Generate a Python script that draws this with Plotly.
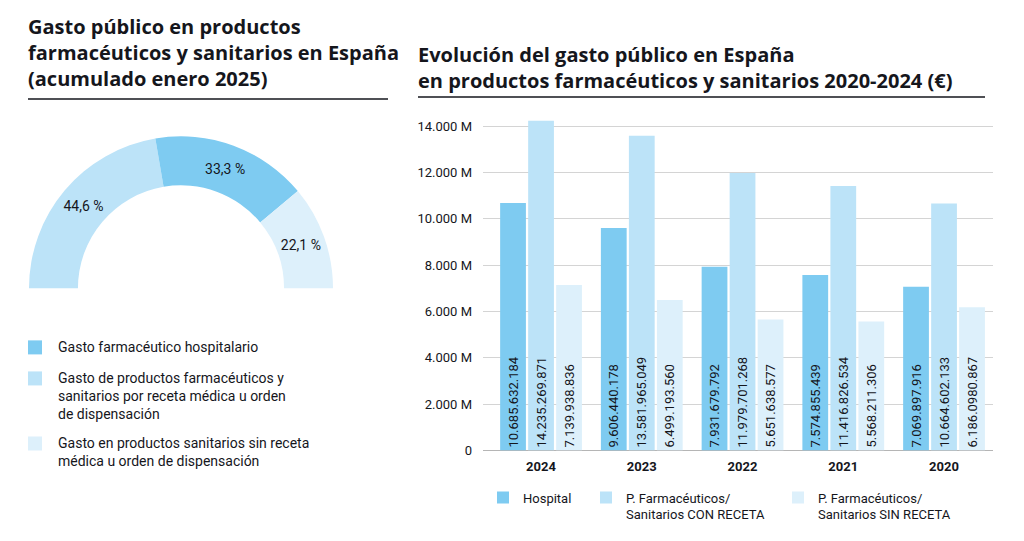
import plotly.graph_objects as go

# ---------------- data ----------------
pie_labels = ["Gasto de productos farmacéuticos y sanitarios por receta médica u orden de dispensación",
              "Gasto farmacéutico hospitalario",
              "Gasto en productos sanitarios sin receta médica u orden de dispensación"]
pie_values = [44.6, 33.3, 22.1]
pie_text = ["44,6 %", "33,3 %", "22,1 %"]

years = ["2024", "2023", "2022", "2021", "2020"]
hospital = [10685632184, 9606440178, 7931679792, 7574855439, 7069897916]
con_receta = [14235269871, 13581965049, 11979701268, 11416826534, 10664602133]
sin_receta = [7139938836, 6499193560, 5651638577, 5568211306, 6186098867]
hospital_lbl = ["10.685.632.184", "9.606.440.178", "7.931.679.792", "7.574.855.439", "7.069.897.916"]
con_lbl = ["14.235.269.871", "13.581.965.049", "11.979.701.268", "11.416.826.534", "10.664.602.133"]
sin_lbl = ["7.139.938.836", "6.499.193.560", "5.651.638.577", "5.568.211.306", "6.186.0980.867"]
series_names = ["Hospital", "P. Farmacéuticos/<br>Sanitarios CON RECETA", "P. Farmacéuticos/<br>Sanitarios SIN RECETA"]

y_tickvals = [0, 2e9, 4e9, 6e9, 8e9, 10e9, 12e9, 14e9]
y_ticktext = ["0", "2.000 M", "4.000 M", "6.000 M", "8.000 M", "10.000 M", "12.000 M", "14.000 M"]

left_title = "Gasto público en productos<br>farmacéuticos y sanitarios en España<br>(acumulado enero 2025)"
right_title = "Evolución del gasto público en España<br>en productos farmacéuticos y sanitarios 2020-2024 (€)"
left_legend_text = [
    "Gasto farmacéutico hospitalario",
    "Gasto de productos farmacéuticos y<br>sanitarios por receta médica u orden<br>de dispensación",
    "Gasto en productos sanitarios sin receta<br>médica u orden de dispensación",
]

# ---------------- style ----------------
C_HOSP = "#7ecbf1"
C_CON = "#bce3f8"
C_SIN = "#ddf0fb"
TXT = "#15161c"
FONT = "Roboto"
TFONT = "Open Sans"
W, H = 1024, 541
H_EFF = 532.4  # vertical pixel scale observed in the rendered photo


def px(x):
    return x / W


def py(y):
    return 1 - y / H_EFF


fig = go.Figure()

# half donut: hidden slice fills the lower half
fig.add_trace(go.Pie(
    labels=pie_labels + [""],
    values=pie_values + [sum(pie_values)],
    text=pie_text + [""],
    textinfo="text",
    textposition="inside",
    insidetextorientation="horizontal",
    textfont=dict(family=FONT, size=14, color=TXT),
    marker=dict(colors=[C_CON, C_HOSP, C_SIN, "rgba(0,0,0,0)"], line=dict(width=0)),
    sort=False,
    direction="clockwise",
    rotation=-90,
    hole=0.678,
    showlegend=False,
    hoverinfo="skip",
    domain=dict(x=[px(29), px(333)], y=[py(440), py(136)]),
))

for name, vals, lbl, col, lg in [
    (series_names[0], hospital, hospital_lbl, C_HOSP, "legend"),
    (series_names[1], con_receta, con_lbl, C_CON, "legend2"),
    (series_names[2], sin_receta, sin_lbl, C_SIN, "legend3"),
]:
    fig.add_trace(go.Bar(
        x=years, y=vals, name=name, text=lbl,
        marker=dict(color=col, line=dict(width=0)),
        textposition="inside", insidetextanchor="start", textangle=-90,
        textfont=dict(family=FONT, size=13, color=TXT),
        constraintext="none",
        legend=lg, showlegend=True,
        hoverinfo="skip",
    ))

shapes = []
annotations = []

# titles
annotations.append(dict(text=f"<b>{left_title}</b>", x=px(26), y=py(52), xref="paper", yref="paper",
                        xanchor="left", yanchor="middle", align="left", showarrow=False,
                        font=dict(family=TFONT, size=20, color=TXT)))
annotations.append(dict(text=f"<b>{right_title}</b>", x=px(416), y=py(67.5), xref="paper", yref="paper",
                        xanchor="left", yanchor="middle", align="left", showarrow=False,
                        font=dict(family=TFONT, size=20, color=TXT)))
shapes.append(dict(type="line", xref="paper", yref="paper", x0=px(28), x1=px(388), y0=py(99), y1=py(99),
                   line=dict(color=TXT, width=1.5)))
shapes.append(dict(type="line", xref="paper", yref="paper", x0=px(418), x1=px(985), y0=py(97), y1=py(97),
                   line=dict(color=TXT, width=1.5)))

# left legend
for txt, col, ytop in zip(left_legend_text, [C_HOSP, C_CON, C_SIN], [340, 371, 436]):
    shapes.append(dict(type="rect", xref="paper", yref="paper", x0=px(28), x1=px(42), y0=py(ytop), y1=py(ytop + 14),
                       fillcolor=col, line=dict(width=0)))
    annotations.append(dict(text=txt, x=px(56), y=py(ytop - 3), xref="paper", yref="paper",
                            xanchor="left", yanchor="top", align="left", showarrow=False,
                            font=dict(family=FONT, size=14, color=TXT)))

leg_common = dict(orientation="v", xanchor="left", yanchor="top", valign="top",
                  font=dict(family=FONT, size=13, color=TXT), bgcolor="rgba(0,0,0,0)",
                  itemwidth=30, tracegroupgap=0)

fig.update_layout(
    width=W, height=H,
    margin=dict(l=0, r=0, t=0, b=0),
    paper_bgcolor="white", plot_bgcolor="white",
    font=dict(family=FONT, size=13, color=TXT),
    barmode="group", bargap=0.166, bargroupgap=0.08,
    xaxis=dict(type="category", domain=[px(483), px(993)], range=[-0.576, 4.486],
               showgrid=False, showline=False, zeroline=False, ticks="", ticklabelstandoff=6,
               tickfont=dict(family=FONT, size=13, color=TXT, weight="bold")),
    yaxis=dict(domain=[py(450), py(116.7)], range=[0, 14.4e9],
               tickvals=y_tickvals, ticktext=y_ticktext,
               showgrid=True, gridcolor="#d4d4d4", gridwidth=1,
               zeroline=True, zerolinecolor="#b5b5b5", zerolinewidth=1,
               showline=False, ticks="", ticklabelstandoff=10,
               tickfont=dict(family=FONT, size=13, color=TXT)),
    legend=dict(x=px(483), y=py(482), **leg_common),
    legend2=dict(x=px(586), y=py(482), **leg_common),
    legend3=dict(x=px(778), y=py(482), **leg_common),
    shapes=shapes,
    annotations=annotations,
    hovermode=False,
)

fig.write_html(
    "out.html",
    config={"displayModeBar": False},
    post_script=("var s=document.createElement('style');"
                 "s.textContent='html,body{margin:0;padding:0;overflow:hidden;}';"
                 "document.head.appendChild(s);"),
)
